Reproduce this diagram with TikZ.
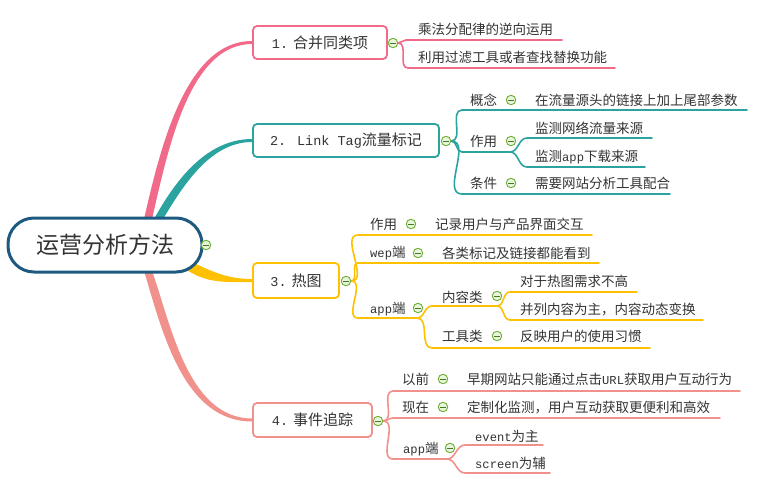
\documentclass[tikz,border=0pt]{standalone}
\usepackage{fontspec}
\setmainfont{Noto Sans CJK SC}
\newfontfamily\mono[Scale=0.9]{Liberation Mono}
\usetikzlibrary{calc}
\pgfdeclarelayer{bg}\pgfsetlayers{bg,main}
\definecolor{pk}{RGB}{241,106,138}
\definecolor{tl}{RGB}{43,164,159}
\definecolor{yl}{RGB}{255,192,0}
\definecolor{sm}{RGB}{240,145,140}
\definecolor{rootblue}{RGB}{30,90,128}
\definecolor{txt}{RGB}{51,51,51}
\definecolor{kg}{RGB}{110,175,55}
\definecolor{kf}{RGB}{232,245,220}
\definecolor{kd}{RGB}{70,120,40}
\tikzset{
 every node/.style={text=txt},
 box/.style={draw, line width=1.8pt, rounded corners=4pt, fill=white, minimum height=33pt, inner sep=0pt, font=\fontsize{15}{15}\selectfont},
 lbl/.style={anchor=west, inner sep=0pt, font=\fontsize{13.5}{14}\selectfont},
 knob/.style={circle, draw=kg, line width=0.9pt, fill=kf, minimum size=9.5pt, inner sep=0pt,
   path picture={\draw[kd, line width=0.9pt] ($(path picture bounding box.west)+(2.2pt,0)$) -- ($(path picture bounding box.east)+(-2.2pt,0)$);}},
 ln/.style={line width=1.6pt, line cap=round},
 cv/.style={out=0, in=180},
}
\begin{document}
\begin{tikzpicture}[x=1pt,y=-1pt]
\useasboundingbox (0,0) rectangle (760,490);
% root
\node[draw=rootblue, line width=3pt, rounded corners=26pt, fill=white, minimum width=194pt, minimum height=54pt, inner sep=0pt, font=\fontsize{23}{23}\selectfont] (root) at (105,245) {运营分析方法};
\node[knob] (k0) at (206,245) {};
\coordinate (r1) at (148,219);
\coordinate (r2) at (158,219);
\coordinate (r3) at (188,264);
\coordinate (r4) at (148,271);
% main boxes
\node[box, draw=pk, minimum width=134pt] (b1) at (320,42.5) {{\mono 1.}\hspace{5pt}合并同类项};
\node[box, draw=tl, minimum width=186pt] (b2) at (346,140.5) {{\mono 2. Link Tag}流量标记};
\node[box, draw=yl, minimum width=86pt, minimum height=35pt] (b3) at (296,280.5) {{\mono 3.}\hspace{5pt}热图};
\node[box, draw=sm, minimum width=119pt, minimum height=34pt] (b4) at (312.5,420) {{\mono 4.}\hspace{5pt}事件追踪};
\node[knob] (k1) at (393,43) {};
\node[knob] (k2) at (446,141) {};
\node[knob] (k3) at (346,281) {};
\node[knob] (k4) at (378,421) {};

% branch 1
\node[lbl] (t11) at (418,29) {乘法分配律的逆向运用};
\node[lbl] (t12) at (418,57) {利用过滤工具或者查找替换功能};
\coordinate (s11) at (406,40); \coordinate (e11) at (562,40);
\coordinate (s12) at (408,68); \coordinate (e12) at (615,68);

% branch 2
\node[lbl] (t21) at (470,100) {概念};
\node[knob] (k21) at (511,100) {};
\node[lbl] (t21c) at (535,100) {在流量源头的链接上加上尾部参数};
\coordinate (s21) at (462,110); \coordinate (e21) at (747,110);
\node[lbl] (t22) at (470,141) {作用};
\node[knob] (k22) at (511,141) {};
\coordinate (s22) at (462,152); \coordinate (p22) at (510,152);
\node[lbl] (t221) at (535,128) {监测网络流量来源};
\coordinate (s221) at (527,138); \coordinate (e221) at (652,138);
\node[lbl] (t222) at (535,157) {监测{\mono app}下载来源};
\coordinate (s222) at (527,167); \coordinate (e222) at (645,167);
\node[lbl] (t23) at (470,183) {条件};
\node[knob] (k23) at (511,183) {};
\node[lbl] (t23c) at (535,183) {需要网站分析工具配合};
\coordinate (s23) at (462,194); \coordinate (e23) at (670,194);

% branch 3
\node[lbl] (t31) at (370,224) {作用};
\node[knob] (k31) at (411,224) {};
\node[lbl] (t31c) at (435,224) {记录用户与产品界面交互};
\coordinate (s31) at (358,235); \coordinate (e31) at (592,235);
\node[lbl] (t32) at (370,253) {{\mono wep}端};
\node[knob] (k32) at (418,253) {};
\node[lbl] (t32c) at (442,253) {各类标记及链接都能看到};
\coordinate (s32) at (358,263); \coordinate (e32) at (599,263);
\node[lbl] (t33) at (370,309) {{\mono app}端};
\node[knob] (k33) at (418,308) {};
\coordinate (s33) at (358,318); \coordinate (p33) at (417,318);
\node[lbl] (t331) at (442,297) {内容类};
\node[knob] (k331) at (497,296) {};
\coordinate (s331) at (432,306); \coordinate (p331) at (497,306);
\node[lbl] (t3311) at (520,281) {对于热图需求不高};
\coordinate (s3311) at (510,292); \coordinate (e3311) at (637,292);
\node[lbl] (t3312) at (520,309) {并列内容为主，内容动态变换};
\coordinate (s3312) at (510,320); \coordinate (e3312) at (703,320);
\node[lbl] (t332) at (442,336) {工具类};
\node[knob] (k332) at (497,336) {};
\node[lbl] (t332c) at (520,336) {反映用户的使用习惯};
\coordinate (s332) at (432,348); \coordinate (e332) at (650,348);

% branch 4
\node[lbl] (t41) at (402,379) {以前};
\node[knob] (k41) at (443,379) {};
\node[lbl] (t41c) at (467,379) {早期网站只能通过点击{\mono URL}获取用户互动行为};
\coordinate (s41) at (393,391); \coordinate (e41) at (740,391);
\node[lbl] (t42) at (402,407) {现在};
\node[knob] (k42) at (443,407) {};
\node[lbl] (t42c) at (467,407) {定制化监测，用户互动获取更便利和高效};
\coordinate (s42) at (393,418); \coordinate (e42) at (720,418);
\node[lbl] (t43) at (403,449) {{\mono app}端};
\node[knob] (k43) at (450,448) {};
\coordinate (s43) at (393,459); \coordinate (p43) at (447,459);
\node[lbl] (t431) at (475,436) {{\mono event}为主};
\coordinate (s431) at (465,445); \coordinate (e431) at (543,445);
\node[lbl] (t432) at (475,463) {{\mono screen}为辅};
\coordinate (s432) at (465,473); \coordinate (e432) at (550,473);

\begin{pgfonlayer}{bg}
% tapered main connectors
\fill[pk] ($(r1)+(-4,0)$) .. controls (160,150) and (185,41) .. ($(b1.west)+(0,-1.5)$) -- ($(b1.west)+(0,1.5)$) .. controls (189,44) and (168,150) .. ($(r1)+(4,0)$) -- cycle;
\fill[tl] ($(r2)+(-4,0)$) .. controls (174,183) and (205,139) .. ($(b2.west)+(0,-1.5)$) -- ($(b2.west)+(0,1.5)$) .. controls (209,142) and (182,188) .. ($(r2)+(5,0)$) -- cycle;
\fill[yl] ($(r3)+(0,-4)$) .. controls (212,272) and (228,279) .. ($(b3.west)+(0,-1.5)$) -- ($(b3.west)+(0,1.5)$) .. controls (226,282) and (206,284) .. ($(r3)+(-4,4)$) -- cycle;
\fill[sm] ($(r4)+(-4,0)$) .. controls (162,330) and (183,421.5) .. ($(b4.west)+(0,1.5)$) -- ($(b4.west)+(0,-1.5)$) .. controls (187,418.5) and (170,320) .. ($(r4)+(4,0)$) -- cycle;
% branch 1
\draw[ln, pk] (k1) to[cv] (s11) -- (e11);
\draw[ln, pk] (k1) to[cv] (s12) -- (e12);
% branch 2
\draw[ln, tl] (k2) to[cv] (s21) -- (e21);
\draw[ln, tl] (k2) to[cv] (s22) -- (p22);
\draw[ln, tl] (p22) to[cv] (s221) -- (e221);
\draw[ln, tl] (p22) to[cv] (s222) -- (e222);
\draw[ln, tl] (k2) to[cv] (s23) -- (e23);
% branch 3
\draw[ln, yl] (k3) to[cv] (s31) -- (e31);
\draw[ln, yl] (k3) to[cv] (s32) -- (e32);
\draw[ln, yl] (k3) to[cv] (s33) -- (p33);
\draw[ln, yl] (p33) to[cv] (s331) -- (p331);
\draw[ln, yl] (p331) to[cv] (s3311) -- (e3311);
\draw[ln, yl] (p331) to[cv] (s3312) -- (e3312);
\draw[ln, yl] (p33) to[cv] (s332) -- (e332);
% branch 4
\draw[ln, sm] (k4) to[cv] (s41) -- (e41);
\draw[ln, sm] (k4) to[cv] (s42) -- (e42);
\draw[ln, sm] (k4) to[cv] (s43) -- (p43);
\draw[ln, sm] (p43) to[cv] (s431) -- (e431);
\draw[ln, sm] (p43) to[cv] (s432) -- (e432);
\end{pgfonlayer}
\end{tikzpicture}
\end{document}
